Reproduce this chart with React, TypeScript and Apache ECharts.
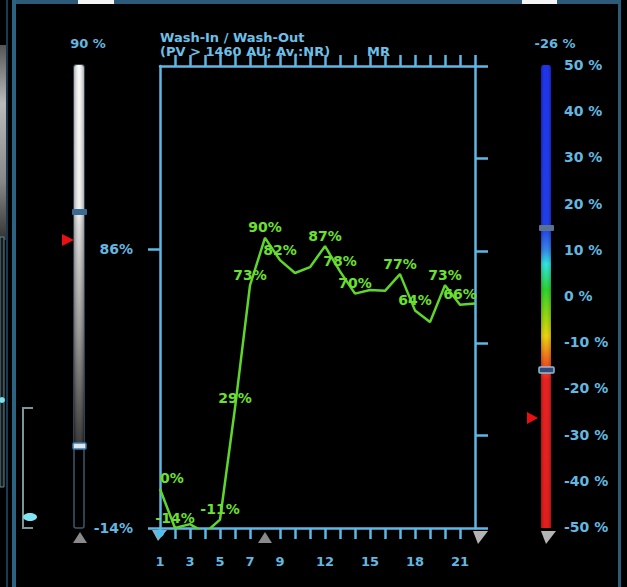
import React, { useEffect, useRef } from "react";
import * as echarts from "echarts";

// ---- data ----
const frames = [1, 2, 3, 4, 5, 6, 7, 8, 9, 10, 11, 12, 13, 14, 15, 16, 17, 18, 19, 20, 21, 22];
const washValues = [0, -14, -12.6, -15.8, -11, 29, 73, 90, 82, 77.4, 79.5, 87, 78, 70, 71.3, 71, 77, 64, 59.8, 73, 66, 66.5];
const pointLabels = ["0%", "-14%", "", "", "-11%", "29%", "73%", "90%", "82%", "", "", "87%", "78%", "70%", "", "", "77%", "64%", "", "73%", "66%", ""];
const xTickLabels = [1, 3, 5, 7, 9, 12, 15, 18, 21];
const leftAxisLabels = [-14, 86];
const yMin = -14;
const yMax = 151.6;
const rightTicks = [-14, 19.12, 52.24, 85.36, 118.48, 151.6];
const colorbarMin = -50;
const colorbarMax = 50;
const titleLine1 = "Wash-In / Wash-Out";
const titleLine2 = "(PV > 1460 AU; Av.:NR)";
const modalityText = "MR";
const leftSliderText = "90 %";
const rightSliderText = "-26 %";

const BLUE = "#5cb8e4";
const LABEL = "#62b8e0";
const FONT = "DejaVu Sans";

export default function App() {
  const ref = useRef<HTMLDivElement>(null);
  useEffect(() => {
    document.body.style.margin = "0";
    document.body.style.background = "#000";
    const chart = echarts.init(ref.current!, null, { renderer: "svg" });
    const topTicks = frames.filter((f) => f >= 2);
    const bottomTicks = frames.filter((f) => f >= 2 && f <= 21 && f !== 8);
    const option: any = {
      animation: false,
      backgroundColor: "#000",
      grid: [
        { left: 160, top: 66, width: 315, height: 462 },
        { left: 541, top: 65, width: 10, height: 462 },
      ],
      xAxis: [
        {
          type: "value", gridIndex: 0, position: "bottom", min: 1, max: 22,
          axisLine: { onZero: false, lineStyle: { color: BLUE, width: 2.5 } },
          axisTick: { show: true, length: 11, lineStyle: { color: BLUE, width: 2.5 }, customValues: bottomTicks },
          axisLabel: { customValues: xTickLabels, color: LABEL, fontFamily: FONT, fontSize: 13, fontWeight: "bold", margin: 27 },
          splitLine: { show: false },
        },
        {
          type: "value", gridIndex: 0, position: "top", min: 1, max: 22,
          axisLine: { onZero: false, lineStyle: { color: BLUE, width: 2.5 } },
          axisTick: { show: true, length: 11, lineStyle: { color: BLUE, width: 2.5 }, customValues: topTicks },
          axisLabel: { show: false },
          splitLine: { show: false },
        },
        { type: "value", gridIndex: 1, show: false, min: 0, max: 1 },
      ],
      yAxis: [
        {
          type: "value", gridIndex: 0, position: "left", min: yMin, max: yMax,
          axisLine: { show: true, onZero: false, lineStyle: { color: BLUE, width: 2.5 } },
          axisTick: { show: true, length: 12, lineStyle: { color: BLUE, width: 2.5 }, customValues: leftAxisLabels },
          axisLabel: { customValues: leftAxisLabels, formatter: (v: number) => `${v}%`, color: LABEL, fontFamily: FONT, fontSize: 14, fontWeight: "bold", margin: 27 },
          splitLine: { show: false },
        },
        {
          type: "value", gridIndex: 0, position: "right", min: yMin, max: yMax,
          axisLine: { show: true, onZero: false, lineStyle: { color: BLUE, width: 2.5 } },
          axisTick: { show: true, length: 13, lineStyle: { color: BLUE, width: 2.5 }, customValues: rightTicks },
          axisLabel: { show: false },
          splitLine: { show: false },
        },
        {
          type: "value", gridIndex: 1, position: "right", min: colorbarMin, max: colorbarMax, interval: 10,
          axisLine: { show: false }, axisTick: { show: false }, splitLine: { show: false },
          axisLabel: { formatter: (v: number) => `${v} %`, color: LABEL, fontFamily: FONT, fontSize: 14, fontWeight: "bold", margin: 13 },
        },
      ],
      graphic: [
        // frame
        { type: "rect", shape: { x: 0, y: 45, width: 6, height: 195 }, style: { fill: new echarts.graphic.LinearGradient(0, 0, 0, 1, [{ offset: 0, color: "#555" }, { offset: 0.3, color: "#bbb" }, { offset: 0.7, color: "#888" }, { offset: 1, color: "#333" }]) } },
        { type: "rect", shape: { x: 0, y: 237, width: 4, height: 250 }, style: { fill: "#1a1a1a", stroke: "#5a8a9a", lineWidth: 1 } },
        { type: "circle", shape: { cx: 2, cy: 400, r: 3 }, style: { fill: "#7ce0f0" } },
        { type: "rect", shape: { x: 6, y: 0, width: 2, height: 587 }, style: { fill: "#1e3a50" } },
        { type: "rect", shape: { x: 12, y: 0, width: 4, height: 587 }, style: { fill: "#2c6282" } },
        { type: "rect", shape: { x: 16, y: 0, width: 604, height: 4 }, style: { fill: "#2c5a78" } },
        { type: "rect", shape: { x: 78, y: 0, width: 36, height: 4 }, style: { fill: "#f4f4f4" } },
        { type: "rect", shape: { x: 522, y: 0, width: 35, height: 4 }, style: { fill: "#f4f4f4" } },
        { type: "rect", shape: { x: 618, y: 0, width: 3, height: 587 }, style: { fill: "#2c5a78" } },
        // bracket
        { type: "polyline", shape: { points: [[33, 408], [23, 408], [23, 528], [33, 528]] }, style: { stroke: "#7a9696", lineWidth: 2, fill: "none" } },
        { type: "ellipse", shape: { cx: 30, cy: 517, rx: 7, ry: 4 }, style: { fill: "#80e4f4" } },
        // left slider
        { type: "rect", shape: { x: 74, y: 65, width: 10, height: 463, r: 2 }, style: { fill: "#000", stroke: "#3c5868", lineWidth: 1.5 } },
        { type: "rect", shape: { x: 74, y: 65, width: 10, height: 382, r: [3, 3, 0, 0] }, style: { fill: new echarts.graphic.LinearGradient(0, 0, 0, 1, [{ offset: 0, color: "#fafafa" }, { offset: 0.38, color: "#f0f0f0" }, { offset: 0.42, color: "#d8d8d8" }, { offset: 0.7, color: "#909090" }, { offset: 1, color: "#222" }]) } },
        { type: "rect", shape: { x: 74, y: 65, width: 10, height: 382 }, style: { fill: new echarts.graphic.LinearGradient(0, 0, 1, 0, [{ offset: 0, color: "rgba(0,0,0,0.3)" }, { offset: 0.5, color: "rgba(255,255,255,0.1)" }, { offset: 1, color: "rgba(0,0,0,0.3)" }]) } },
        { type: "rect", shape: { x: 72, y: 209, width: 15, height: 6, r: 1 }, style: { fill: "#3a6a92" } },
        { type: "rect", shape: { x: 73, y: 443, width: 13, height: 6, r: 1 }, style: { fill: "#dde4ea", stroke: "#3a7ab4", lineWidth: 1.5 } },
        { type: "polygon", shape: { points: [[62, 234], [62, 246], [74, 240]] }, style: { fill: "#e81010" } },
        { type: "polygon", shape: { points: [[73, 543], [87, 543], [80, 532]] }, style: { fill: "#8a8a8a" } },
        { type: "text", x: 88, y: 43, style: { text: leftSliderText, fill: LABEL, font: `bold 13px "${FONT}"`, align: "center", verticalAlign: "middle" } },
        // right colour bar
        { type: "rect", shape: { x: 541, y: 65, width: 10, height: 463, r: [3, 3, 0, 0] }, style: { fill: new echarts.graphic.LinearGradient(0, 0, 0, 1, [
          { offset: 0, color: "#1028ec" }, { offset: 0.352, color: "#1432ea" }, { offset: 0.40, color: "#2a80e8" },
          { offset: 0.43, color: "#20e4e0" }, { offset: 0.485, color: "#20d020" }, { offset: 0.55, color: "#a0d400" },
          { offset: 0.585, color: "#ecd000" }, { offset: 0.635, color: "#f06010" }, { offset: 0.68, color: "#e81414" }, { offset: 1, color: "#e01010" },
        ]) } },
        { type: "rect", shape: { x: 541, y: 65, width: 10, height: 463 }, style: { fill: new echarts.graphic.LinearGradient(0, 0, 1, 0, [{ offset: 0, color: "rgba(0,0,0,0.2)" }, { offset: 0.5, color: "rgba(255,255,255,0.05)" }, { offset: 1, color: "rgba(0,0,0,0.2)" }]) } },
        { type: "rect", shape: { x: 539, y: 225, width: 15, height: 6, r: 1 }, style: { fill: "#5a7490" } },
        { type: "rect", shape: { x: 539, y: 367, width: 15, height: 6, r: 1 }, style: { fill: "#2c4a7a", stroke: "#9ab8d4", lineWidth: 1.5 } },
        { type: "polygon", shape: { points: [[527, 412], [527, 424], [538, 418]] }, style: { fill: "#e81010" } },
        { type: "polygon", shape: { points: [[541, 531], [556, 531], [546, 544]] }, style: { fill: "#b4b4b4" } },
        { type: "text", x: 555, y: 43, style: { text: rightSliderText, fill: LABEL, font: `bold 13px "${FONT}"`, align: "center", verticalAlign: "middle" } },
        // plot decorations
        { type: "polygon", shape: { points: [[152, 530], [167, 530], [158, 541]] }, style: { fill: "#8ab0bc" } },
        { type: "circle", shape: { cx: 160, cy: 533, r: 4 }, style: { fill: "#4ec0f0" } },
        { type: "polygon", shape: { points: [[258, 543], [272, 543], [265, 532]] }, style: { fill: "#8a8a8a" } },
        { type: "polygon", shape: { points: [[473, 531], [488, 531], [478, 544]] }, style: { fill: "#b4b4b4" } },
        // titles
        { type: "text", x: 160, y: 37, style: { text: titleLine1, fill: "#6cc0ea", font: `bold 13px "${FONT}"`, verticalAlign: "middle" } },
        { type: "text", x: 160, y: 51, style: { text: titleLine2, fill: "#6cc0ea", font: `bold 13px "${FONT}"`, verticalAlign: "middle" } },
        { type: "text", x: 367, y: 51, style: { text: modalityText, fill: "#6cc0ea", font: `bold 13px "${FONT}"`, verticalAlign: "middle" } },
      ],
      series: [
        {
          type: "line", xAxisIndex: 0, yAxisIndex: 0,
          data: frames.map((f, i) => [f, washValues[i]]),
          showSymbol: true, symbol: "circle", symbolSize: 1,
          itemStyle: { color: "#5fd62a" },
          lineStyle: { color: "#5fd62a", width: 2.5 },
          label: {
            show: true, position: "top", distance: 3,
            formatter: (p: any) => pointLabels[p.dataIndex],
            color: "#6be030", fontFamily: FONT, fontSize: 14, fontWeight: "bold",
          },
          labelLayout: (p: any) => (p.dataIndex === 0 ? { dx: 12 } : {}),
        },
      ],
    };
    chart.setOption(option);
    return () => chart.dispose();
  }, []);
  return <div ref={ref} style={{ width: 627, height: 587, background: "#000" }} />;
}
